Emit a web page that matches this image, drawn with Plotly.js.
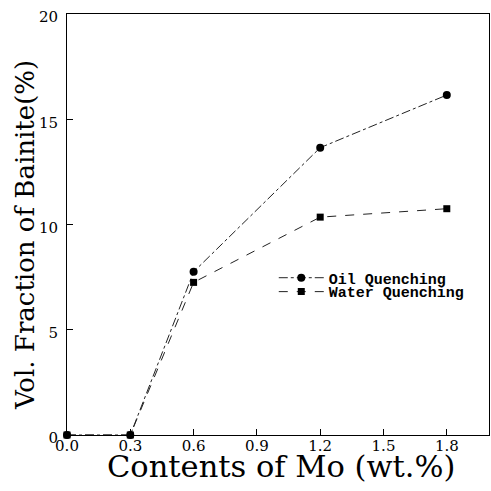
<!DOCTYPE html>
<html>
<head>
<meta charset="utf-8">
<script src="https://cdn.plot.ly/plotly-3.0.1.min.js"></script>
<style>html,body{margin:0;padding:0;background:#fff;}#chart{width:491px;height:491px;}</style>
</head>
<body>
<div id="chart"></div>
<script>
const moContent = [0.0, 0.3, 0.6, 1.2, 1.8];
const oilQuenching = [0.0, 0.0, 7.75, 13.65, 16.15];
const waterQuenching = [0.0, 0.0, 7.25, 10.35, 10.75];
const xTickVals = [0.0, 0.3, 0.6, 0.9, 1.2, 1.5, 1.8];
const xTickText = ["0.0", "0.3", "0.6", "0.9", "1.2", "1.5", "1.8"];
const yTickVals = [0, 5, 10, 15, 20];
const seriesNames = ["Oil Quenching", "Water Quenching"];
const xTitle = "Contents of Mo (wt.%)";
const yTitle = "Vol. Fraction of Bainite(%)";

const serif = "DejaVu Serif, serif";
const legendFont = {family: "Liberation Mono, monospace", size: 15, color: "#000", weight: "bold"};

const traces = [
  {
    x: moContent, y: oilQuenching, name: seriesNames[0], legend: "legend",
    mode: "lines+markers", cliponaxis: false,
    line: {color: "#222", width: 1, dash: "dashdot"},
    marker: {symbol: "circle", size: 8, color: "#000"}
  },
  {
    x: moContent, y: waterQuenching, name: seriesNames[1], legend: "legend2",
    mode: "lines+markers", cliponaxis: false,
    line: {color: "#222", width: 1, dash: "dash"},
    marker: {symbol: "square", size: 7, color: "#000"}
  }
];

const layout = {
  width: 491, height: 491,
  margin: {l: 67, r: 2, t: 14, b: 56},
  paper_bgcolor: "#fff", plot_bgcolor: "#fff",
  showlegend: true,
  legend: {
    x: 0.49, y: 0.373, xanchor: "left", yanchor: "middle",
    bgcolor: "rgba(0,0,0,0)", itemwidth: 45, font: legendFont
  },
  legend2: {
    x: 0.49, y: 0.34, xanchor: "left", yanchor: "middle",
    bgcolor: "rgba(0,0,0,0)", itemwidth: 45, font: legendFont
  },
  xaxis: {
    range: [0, 2.0], tickvals: xTickVals, ticktext: xTickText,
    ticks: "inside", ticklen: 6, tickcolor: "#000", tickwidth: 1,
    showline: true, linecolor: "#000", linewidth: 1, mirror: true,
    showgrid: false, zeroline: false, ticklabelstandoff: -3,
    tickfont: {family: serif, size: 15, color: "#000"}
  },
  yaxis: {
    range: [0, 20], tickvals: yTickVals,
    ticks: "inside", ticklen: 6, tickcolor: "#000", tickwidth: 1,
    showline: true, linecolor: "#000", linewidth: 1, mirror: true,
    showgrid: false, zeroline: false, ticklabelshift: 3, ticklabelstandoff: 5,
    tickfont: {family: serif, size: 15, color: "#000"}
  },
  annotations: [
    {
      text: yTitle, xref: "paper", yref: "paper",
      x: -0.0995, y: 0.475, xanchor: "center", yanchor: "middle",
      textangle: -90, showarrow: false,
      font: {family: serif, size: 26, color: "#000"}
    },
    {
      text: xTitle, xref: "paper", yref: "paper",
      x: 0.508, y: -0.074, xanchor: "center", yanchor: "middle",
      showarrow: false,
      font: {family: serif, size: 30.5, color: "#000"}
    }
  ]
};

Plotly.newPlot("chart", traces, layout, {displayModeBar: false, staticPlot: true});
</script>
</body>
</html>
